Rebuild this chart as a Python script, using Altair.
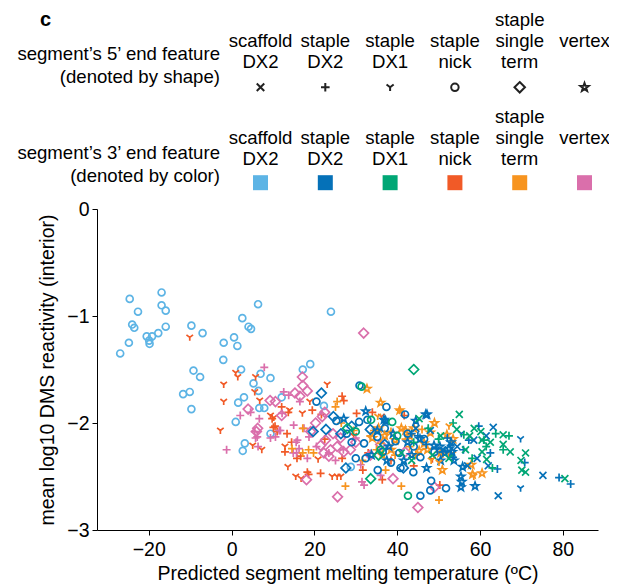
import math
import altair as alt
import pandas as pd

# ---------------- categories ----------------
features = ["scaffold DX2", "staple DX2", "staple DX1", "staple nick",
            "staple single term", "vertex"]
feature_labels = ["\nscaffold\nDX2", "\nstaple\nDX2", "\nstaple\nDX1", "\nstaple\nnick",
                  "staple\nsingle\nterm", "\nvertex"]
colors = ["#5DB4E5", "#0571B8", "#00A775", "#F15A27", "#F7941F", "#DA6FAB"]

# ---------------- data: (Tm, mean log10 reactivity) per 5'/3' feature pair ----------------
nick_scafDX2 = [(-24.6,-0.84),(-26.9,-1.35),(-22.6,-0.96),(-24.0,-1.08),(-23.5,-1.11),(-24.8,-1.25),
    (-20.5,-1.19),(-19.8,-1.26),(-19.9,-1.23),(-19.2,-1.19),(-17.7,-1.16),(-16.9,-0.78),(-16.9,-0.90),
    (-15.9,-0.95),(-15.9,-1.10),(-9.7,-1.09),(-7.0,-1.16),(-9.2,-1.51),(-7.6,-1.57),(-11.7,-1.73),
    (-10.1,-1.71),(-9.7,-1.87),(-1.9,-1.25),(-2.0,-1.41),(0.6,-1.20),(1.4,-1.28),(2.6,-1.02),(4.1,-1.10),
    (4.7,-1.12),(2.3,-1.50),(5.3,-1.63),(7.0,-1.54),(6.5,-1.70),(9.4,-1.58),(7.9,-1.86),(6.7,-1.86),
    (6.4,-0.89),(1.0,-1.99),(1.6,-1.81),(3.0,-1.76),(3.2,-2.19),(2.7,-2.26),(9.4,-2.10),(12.1,-1.76),
    (17.2,-1.50),(19.0,-1.45),(24.0,-0.96),(22.3,-1.84),(28.8,-2.41)]
dx1_nick = [(-10.1,-1.20),(-1.9,-1.64),(-1.9,-1.80),(-2.7,-2.07),(1.0,-1.53),(1.5,-1.57),(5.8,-1.57),
    (5.6,-1.71),(6.8,-1.79),(5.1,-2.21),(7.3,-2.25),(9.4,-1.93),(10.2,-1.95),(12.9,-2.22),(13.6,-2.41),
    (15.5,-2.50),(16.8,-2.52),(23.1,-1.64),(18.9,-1.80),(20.9,-2.34),(24.3,-2.50),(25.5,-2.50),
    (26.4,-2.50),(36.2,-1.94),(17.1,-1.91),(48.5,-2.34),(29.5,-2.12),(14.0,-1.88)]
dx2_nick = [(12.1,-1.85),(10.1,-2.04),(13.4,-2.10),(14.5,-2.18),(15.8,-2.33),(18.3,-2.46),(13.7,-1.90),
    (10.5,-2.03),(9.8,-1.96),(11.0,-2.08),(26.7,-1.75),(27.1,-1.79),(30.2,-1.91),(34.0,-1.90),(21.7,-1.92),
    (19.5,-1.88),(21.5,-2.47),(18.6,-2.48),(26.7,-2.33),(31.7,-2.44),(36.4,-2.53),(41.7,-1.93),(50.3,-2.58),
    (16.7,-2.31),(12.9,-2.27),(22.5,-2.15),(33.0,-2.28),(38.5,-2.35),(44.0,-2.40)]
dx2_vertex = [(7.9,-1.48),(-1.2,-2.25),(2.1,-1.93),(6.7,-1.96),(6.2,-2.13),(6.4,-2.22),(13.8,-1.74),
    (12.6,-1.71),(11.5,-2.07),(15.6,-2.18),(15.7,-2.28),(31.5,-2.55),(5.8,-2.14),(5.6,-2.08),(9.4,-2.14),
    (10.6,-2.13),(11.8,-2.07),(12.2,-1.91),(15.9,-2.16),(16.3,-2.24),(14.9,-2.28),(15.0,-2.02),(18.7,-2.13),
    (18.3,-2.33),(25.1,-2.35),(30.0,-2.14),(31.2,-2.39),(32.0,-2.58),(36.0,-2.49),(20.5,-2.22),(23.5,-2.28),
    (27.0,-2.25),(16.5,-1.80),(4.6,-1.90),(17.5,-2.05)]
term_vertex = [(31.9,-1.16),(4.0,-1.87),(6.3,-2.05),(6.0,-2.08),(9.3,-1.79),(10.6,-1.80),(12.1,-1.93),
    (15.3,-1.72),(16.5,-1.75),(17.1,-1.57),(17.2,-1.65),(18.3,-1.70),(18.1,-2.53),(21.9,-1.94),(22.5,-1.90),
    (20.3,-2.00),(19.1,-2.08),(21.5,-2.21),(22.7,-2.16),(23.9,-2.25),(22.3,-2.28),(23.5,-2.31),(25.5,-2.22),
    (27.1,-2.27),(28.7,-2.25),(26.3,-2.14),(25.6,-2.69),(39.0,-2.52),(45.0,-2.79),(49.0,-2.60),(41.9,-2.27),
    (33.5,-2.30),(30.0,-2.18),(24.5,-2.10),(36.0,-2.20)]
dx2_term = [(25.5,-1.80),(25.1,-1.85),(17.2,-2.05),(17.2,-2.28),(18.6,-2.25),(27.5,-2.59),(41.0,-2.59),
    (50.1,-2.72),(40.6,-1.88),(50.9,-2.29),(29.5,-2.07),(31.6,-2.35),(37.2,-2.44),(36.0,-2.19),(34.4,-2.07),
    (14.6,-2.24),(19.8,-2.28),(33.5,-2.12),(38.5,-2.08),(44.5,-2.30),(42.0,-2.15),(26.5,-2.00),
    (35.0,-2.25),(39.5,-2.30),(43.0,-2.22),(46.0,-2.06)]
vertex_term = [(32.7,-1.68),(36.0,-1.81),(40.6,-1.88),(52.0,-2.11),(50.9,-2.44),(57.9,-2.39),(58.2,-2.48),
    (45.3,-2.26),(36.4,-2.30),(38.5,-2.25),(50.5,-2.28),(52.9,-2.29),(60.5,-2.47),(46.5,-2.19),(47.3,-2.25),
    (42.0,-2.07),(34.0,-2.14),(39.5,-2.16),(44.0,-2.05),(48.0,-2.09),
    (37.0,-2.12),(41.0,-2.05),(43.0,-2.12),(49.0,-2.00),(53.5,-2.15),(35.5,-2.05)]
nick_dx2 = [(30.9,-1.65),(41.9,-1.92),(37.4,-1.85),(30.8,-1.99),(32.8,-1.97),(30.0,-2.33),(32.4,-2.33),
    (35.3,-2.44),(40.8,-2.42),(45.6,-2.68),(48.0,-2.63),(48.2,-2.54),(51.8,-2.61),(43.9,-2.46),(35.2,-2.13),
    (32.0,-2.19),(39.6,-2.17),(44.0,-2.22),(45.6,-2.32),(25.3,-1.98),(20.5,-1.80),(27.8,-2.10),(37.0,-2.05),
    (42.5,-2.10),(29.0,-2.18),(36.5,-2.27),(40.5,-2.28),(38.5,-2.37),(46.5,-2.15),(49.0,-2.27)]
term_dx2 = [(21.7,-1.72),(19.7,-2.08),(22.8,-2.06),(24.6,-1.94),(26.4,-2.10),(27.6,-2.42),(29.0,-2.03),
    (33.5,-2.06),(37.0,-2.20),(41.5,-2.42)]
vertex_dx2 = [(32.4,-1.89),(37.2,-1.98),(47.2,-1.92),(55.8,-2.41),(55.4,-2.50),(55.6,-2.55),(55.4,-2.60),
    (58.8,-2.59),(27.1,-1.96),(36.8,-1.97),(35.2,-2.07),(41.6,-2.35),(46.9,-1.92),(48.9,-2.21),(50.3,-2.22),
    (52.5,-2.24),(53.3,-2.27),(53.7,-2.35),(47.1,-2.42),(43.5,-2.30),(39.0,-2.10),(33.8,-2.30),(45.5,-2.15),
    (38.0,-2.22),(42.5,-2.18),(50.5,-2.35),(51.5,-2.28),(44.5,-1.98),(37.5,-2.35),(53.0,-2.18)]
scaf_dx2 = [(48.0,-2.07),(63.2,-2.04),(64.4,-2.68),(75.2,-2.49),(58.5,-2.16),(59.3,-2.33),(54.5,-2.22),
    (61.5,-2.12),(51.0,-2.25),(44.5,-2.05),(57.0,-2.40),(62.0,-2.40)]
dx2_dx2 = [(59.7,-2.03),(64.2,-2.43),(79.1,-2.51),(81.9,-2.57),(70.8,-2.37),(52.9,-2.21),(57.3,-2.16),
    (52.1,-2.14),(45.0,-2.12),(49.5,-2.24),(56.0,-2.25),(62.5,-2.28),(47.0,-2.20),(53.5,-2.32),(43.5,-2.10)]
dx1_dx2 = [(69.8,-2.15),(69.8,-2.61),(55.5,-2.10)]
scaf_dx1 = [(55.0,-1.92),(45.3,-1.96),(54.4,-2.06),(58.6,-2.05),(60.2,-2.08),(60.5,-2.16),(60.5,-2.27),
    (61.6,-2.34),(65.6,-2.11),(65.6,-2.20),(67.3,-2.27),(71.0,-2.28),(69.9,-2.35),(70.1,-2.44),(71.0,-2.46),
    (80.5,-2.52),(56.5,-2.25),(62.5,-2.18),(50.5,-2.12),(48.5,-2.30),(43.5,-2.35),(41.0,-2.28),(52.5,-2.33),
    (57.5,-2.12)]
dx2_dx1 = [(53.5,-2.00),(56.1,-2.11),(63.8,-2.10),(63.0,-2.42),(65.6,-2.25),(58.1,-2.33),(60.9,-2.16),
    (50.0,-2.15),(47.5,-2.05),(61.5,-2.22),(67.0,-2.12),(44.0,-2.18)]
nick_dx1 = [(31.4,-1.66),(42.6,-2.68),(36.0,-2.25),(38.8,-1.99),(33.7,-1.97),(30.0,-2.08),(40.0,-2.12)]
term_dx1 = [(44.0,-1.50),(33.6,-2.52),(35.5,-2.30),(28.0,-2.05)]
dx1_term = [(35.3,-1.94),(48.2,-2.35),(50.1,-2.37),(52.5,-2.03),(58.5,-2.50),(37.5,-2.10)]

groups = [
    ("staple nick", "scaffold DX2", nick_scafDX2),
    ("staple DX1", "staple nick", dx1_nick),
    ("staple DX2", "staple nick", dx2_nick),
    ("staple DX2", "vertex", dx2_vertex),
    ("staple single term", "vertex", term_vertex),
    ("staple DX2", "staple single term", dx2_term),
    ("vertex", "staple single term", vertex_term),
    ("staple nick", "staple DX2", nick_dx2),
    ("staple single term", "staple DX2", term_dx2),
    ("vertex", "staple DX2", vertex_dx2),
    ("scaffold DX2", "staple DX2", scaf_dx2),
    ("staple DX2", "staple DX2", dx2_dx2),
    ("staple DX1", "staple DX2", dx1_dx2),
    ("scaffold DX2", "staple DX1", scaf_dx1),
    ("staple DX2", "staple DX1", dx2_dx1),
    ("staple nick", "staple DX1", nick_dx1),
    ("staple single term", "staple DX1", term_dx1),
    ("staple DX1", "staple single term", dx1_term),
]
rows = []
for f5, f3, pts in groups:
    for tm, r in pts:
        rows.append({"tm": tm, "react": r, "end5": f5, "end3": f3})
df = pd.DataFrame(rows)

# ---------------- marker shapes ----------------
def star_path(ro=1.15, ri=0.47):
    pts = []
    for k in range(10):
        a = math.radians(-90 + 36 * k)
        rr = ro if k % 2 == 0 else ri
        pts.append(f"{rr*math.cos(a):.3f},{rr*math.sin(a):.3f}")
    return "M" + "L".join(pts) + "Z"

shape_paths = [
    "M-1,-1L1,1M-1,1L1,-1",                       # x
    "M-1.15,0L1.15,0M0,-1.15L0,1.15",             # +
    "M0,0L0,1M0,0L-0.95,-0.75M0,0L0.95,-0.75",    # Y
    "M1,0A1,1,0,1,1,-1,0A1,1,0,1,1,1,0Z",         # circle
    "M0,-1.4L1.4,0L0,1.4L-1.4,0Z",                # diamond
    star_path(),                                  # star
]

FONT = "Liberation Sans"
FS = 19.5      # axis text
LFS = 18.6     # legend text
shape_scale = alt.Scale(domain=features, range=shape_paths)
color_scale = alt.Scale(domain=features, range=colors)

W, H = 501, 321
TOP = 209  # page y of the plot's top edge

scatter = alt.Chart(df).mark_point(filled=False, strokeWidth=1.7, size=48, opacity=1).encode(
    x=alt.X("tm:Q", scale=alt.Scale(domain=[-32.5, 88.5], nice=False, zero=False),
            axis=alt.Axis(values=[-20, 0, 20, 40, 60, 80], title="Predicted segment melting temperature (ºC)",
                          titlePadding=6, labelPadding=5)),
    y=alt.Y("react:Q", scale=alt.Scale(domain=[-3, 0], nice=False),
            axis=alt.Axis(values=[0, -1, -2, -3], title="mean log10 DMS reactivity (interior)",
                          titlePadding=9, labelPadding=3)),
    shape=alt.Shape("end5:N", scale=shape_scale, legend=None),
    color=alt.Color("end3:N", scale=color_scale, legend=None),
)

# ---------------- legend (built from the category lists) ----------------
leg = pd.DataFrame({"feature": features, "label": feature_labels, "col": list(range(1, 7))})
leg_x = alt.X("col:Q", scale=alt.Scale(domain=[-1.523, 6.208], nice=False, zero=False), axis=None)

leg_shapes = alt.Chart(leg).mark_point(filled=False, strokeWidth=2, size=56, color="#222222", opacity=1).encode(
    x=leg_x, y=alt.value(87.3 - TOP),
    shape=alt.Shape("feature:N", scale=shape_scale, legend=None),
)
leg_squares = alt.Chart(leg).mark_square(size=225, opacity=1).encode(
    x=leg_x, y=alt.value(182.7 - TOP),
    color=alt.Color("feature:N", scale=color_scale, legend=None),
)
text_kw = dict(font=FONT, fontSize=LFS, lineBreak="\n", lineHeight=21, baseline="alphabetic",
               align="center", color="black")
leg_text1 = alt.Chart(leg).mark_text(**text_kw).encode(x=leg_x, y=alt.value(26 - TOP), text="label:N")
leg_text2 = alt.Chart(leg).mark_text(**text_kw).encode(x=leg_x, y=alt.value(123.4 - TOP), text="label:N")

side_labels = ["segment’s 5’ end feature\n(denoted by shape)",
               "segment’s 3’ end feature\n(denoted by color)"]
side_kw = dict(font=FONT, fontSize=LFS, lineBreak="\n", lineHeight=22.7, baseline="alphabetic",
               align="right", color="black")
side1 = alt.Chart(pd.DataFrame({"t": [side_labels[0]]})).mark_text(**side_kw).encode(
    x=alt.value(220 - 97), y=alt.value(60 - TOP), text="t:N")
side2 = alt.Chart(pd.DataFrame({"t": [side_labels[1]]})).mark_text(**side_kw).encode(
    x=alt.value(220 - 97), y=alt.value(159.4 - TOP), text="t:N")
panel = alt.Chart(pd.DataFrame({"t": ["c"]})).mark_text(
    font=FONT, fontSize=20, fontWeight="bold", align="center", baseline="alphabetic", color="black"
).encode(x=alt.value(45.5 - 97), y=alt.value(25.5 - TOP), text="t:N")

chart = alt.layer(
    scatter, leg_shapes, leg_squares, leg_text1, leg_text2, side1, side2, panel
).resolve_scale(x="independent").properties(
    width=W, height=H,
    autosize=alt.AutoSizeParams(type="none"),
    padding={"left": 89, "top": 201, "right": 11, "bottom": 58},
).configure_view(stroke=None).configure_axis(
    grid=False, domainColor="black", tickColor="black", tickSize=5, domainWidth=1, tickWidth=1,
    labelFont=FONT, titleFont=FONT, labelFontSize=FS, titleFontSize=FS, titleFontWeight="normal",
    labelColor="black", titleColor="black",
).configure_text(font=FONT)

chart.save("out.html", embed_options={"renderer": "svg", "actions": False})
